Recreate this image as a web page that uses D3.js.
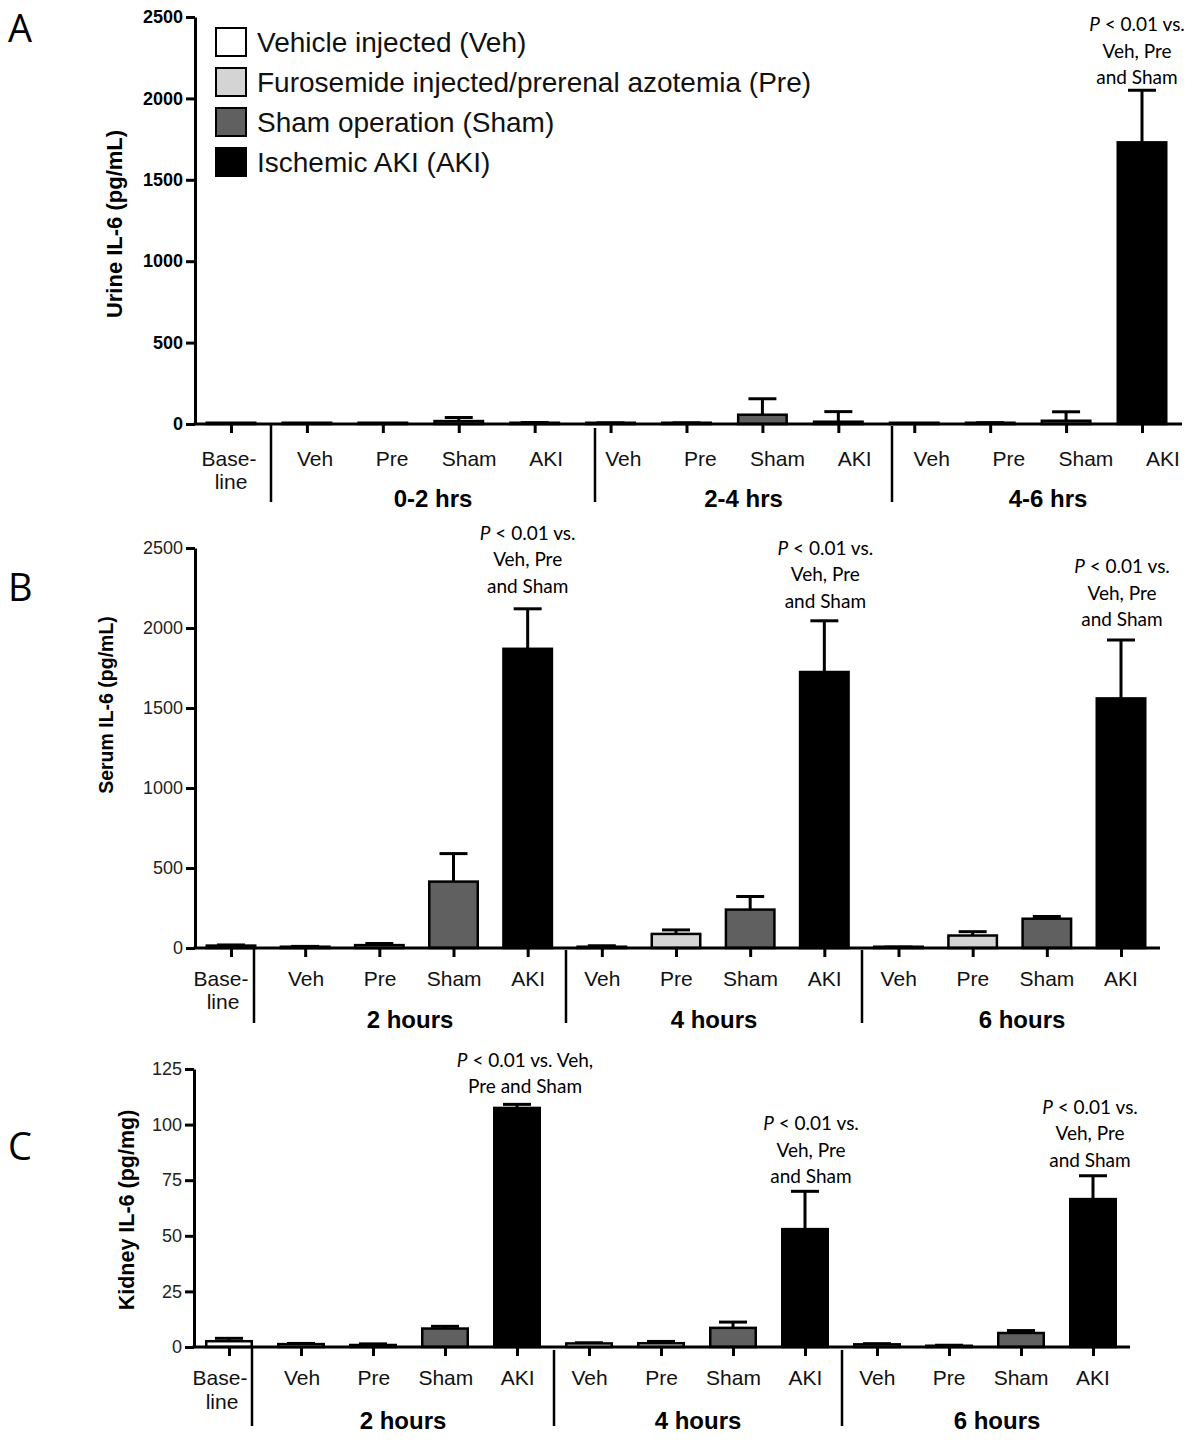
<!DOCTYPE html>
<html><head><meta charset="utf-8">
<script src="https://cdn.jsdelivr.net/npm/d3@7"></script>
<style>body{margin:0;background:#fff}svg{display:block}</style>
</head><body><svg id="c" width="1200" height="1447"></svg>
<script>
// ---------- data ----------
const categories = ["Veh", "Pre", "Sham", "AKI"];
const baselineLabel = ["Base-", "line"];
const urineTimes = ["0-2 hrs", "2-4 hrs", "4-6 hrs"];
const hourTimes = ["2 hours", "4 hours", "6 hours"];
const legendLabels = ["Vehicle injected (Veh)", "Furosemide injected/prerenal azotemia (Pre)", "Sham operation (Sham)", "Ischemic AKI (AKI)"];
const groupColors = ["#ffffff", "#d4d4d4", "#606060", "#000000"];

// order: Baseline, then Veh/Pre/Sham/AKI for each of 3 time points
const urineMean = [1, 1, 1, 18, 7, 5, 5, 57, 14, 1, 6, 20, 1730];
const urineErr  = [0, 0, 0, 22, 2, 2, 2, 98, 62, 0, 2, 55, 320];
const serumMean = [15, 8, 18, 415, 1870, 8, 88, 240, 1725, 4, 78, 183, 1560];
const serumErr  = [4, 2, 10, 175, 250, 6, 25, 82, 320, 2, 24, 14, 365];
const kidneyMean = [2.6, 1.3, 0.9, 8.3, 107.5, 1.6, 1.7, 8.6, 53, 1.2, 0.5, 6.3, 66.5];
const kidneyErr  = [1.3, 0.3, 0.5, 1.0, 1.6, 0.3, 0.8, 2.6, 17, 0.3, 0.3, 1.1, 10.5];

const ticksAB = [0, 500, 1000, 1500, 2000, 2500];
const ticksC = [0, 25, 50, 75, 100, 125];

const annotThree = ["< 0.01 vs.", "Veh, Pre", "and Sham"];
const annotTwo = ["< 0.01 vs. Veh,", "Pre and Sham"];

// ---------- layout ----------
const panels = [
  {letter: "A", letterY: 42, mean: urineMean, err: urineErr, ticks: ticksAB, max: 2500, times: urineTimes,
   y0: 424, y1: 17, axisX: 195, axisEnd: 1182, first: 231, last: 1142, barW: 51,
   labelFirst: 315, labelLast: 1163, baseLabelX: 229, seps: [[271, 424], [595, 428], [892, 426]], sepBottom: 502,
   catY: 466, lineY: 489, groupY: 507, tickBold: true, groupEndPad: 22,
   title: "Urine IL-6 (pg/mL)", titleX: 122, titleY: 224, titleSize: 22,
   annots: [{i: 12, lines: annotThree, gap: 6, dx: -5}]},
  {letter: "B", letterY: 601, mean: serumMean, err: serumErr, ticks: ticksAB, max: 2500, times: hourTimes,
   y0: 948, y1: 548, axisX: 195, axisEnd: 1160, first: 231, last: 1121, barW: 51,
   labelFirst: 306, labelLast: 1121, baseLabelX: 221, seps: [[254, 948], [566, 950], [862, 950]], sepBottom: 1023,
   catY: 986, lineY: 1009, groupY: 1028, tickBold: false, groupEndPad: 22,
   title: "Serum IL-6 (pg/mL)", titleX: 113, titleY: 705, titleSize: 19.5,
   annots: [{i: 4, lines: annotThree, gap: 16, dx: 0}, {i: 8, lines: annotThree, gap: 13, dx: 1}, {i: 12, lines: annotThree, gap: 14, dx: 1}]},
  {letter: "C", letterY: 1160, mean: kidneyMean, err: kidneyErr, ticks: ticksC, max: 125, times: hourTimes,
   y0: 1347, y1: 1069, axisX: 194, axisEnd: 1130, first: 229, last: 1093, barW: 48,
   labelFirst: 302, labelLast: 1093, baseLabelX: 220, seps: [[252, 1347], [554, 1350], [842, 1350]], sepBottom: 1426,
   catY: 1385, lineY: 1409, groupY: 1429, tickBold: false, groupEndPad: 22,
   title: "Kidney IL-6 (pg/mg)", titleX: 134, titleY: 1210, titleSize: 21.5,
   annots: [{i: 4, lines: annotTwo, gap: 11, dx: 8}, {i: 8, lines: annotThree, gap: 8, dx: 6}, {i: 12, lines: annotThree, gap: 9, dx: -3}]}
];

const svg = d3.select("#c");
const SANS = "'Liberation Sans', Arial, Helvetica, sans-serif";
const HUMAN = "Lato, 'Open Sans', sans-serif";

panels.forEach(p => {
  const g = svg.append("g");
  const idx = d3.range(p.mean.length);
  const x = d3.scalePoint().domain(idx).range([p.first, p.last]);
  const xl = d3.scaleLinear().domain([1, 12]).range([p.labelFirst, p.labelLast]);
  const y = d3.scaleLinear().domain([0, p.max]).range([p.y0, p.y1]);
  const color = i => i === 0 ? groupColors[0] : groupColors[(i - 1) % 4];

  // panel letter
  svg.append("text").attr("x", 8).attr("y", p.letterY).text(p.letter)
    .attr("font-family", "'Open Sans', Lato, sans-serif").attr("font-size", 38).attr("fill", "#000");

  // error bars (upward only)
  idx.forEach(i => {
    if (p.err[i] <= 0) return;
    const cx = x(i), top = y(p.mean[i] + p.err[i]);
    g.append("line").attr("x1", cx).attr("x2", cx).attr("y1", y(p.mean[i])).attr("y2", top)
      .attr("stroke", "#000").attr("stroke-width", 3);
    g.append("line").attr("x1", cx - 14).attr("x2", cx + 14).attr("y1", top).attr("y2", top)
      .attr("stroke", "#000").attr("stroke-width", 3);
  });

  // bars
  g.selectAll("rect.bar").data(idx).join("rect").attr("class", "bar")
    .attr("x", i => x(i) - p.barW / 2 + 1.25)
    .attr("width", p.barW - 2.5)
    .attr("y", i => Math.min(y(p.mean[i]), p.y0 - 1.25))
    .attr("height", i => Math.max(p.y0 - y(p.mean[i]), 1.25))
    .attr("fill", color).attr("stroke", "#000").attr("stroke-width", 2.5);

  // y axis
  const yAxis = d3.axisLeft(y).tickValues(p.ticks).tickFormat(d3.format("d"))
    .tickSize(9).tickSizeOuter(0).tickPadding(3);
  const ya = g.append("g").attr("transform", `translate(${p.axisX},0)`).call(yAxis);
  ya.select(".domain").attr("stroke-width", 3);
  ya.selectAll(".tick line").attr("stroke-width", 3);
  ya.selectAll(".tick text").attr("font-family", SANS).attr("font-size", 18)
    .attr("font-weight", p.tickBold ? "bold" : "normal")
    .attr("fill", p.tickBold ? "#000" : "#222");

  // x axis
  const xAxis = d3.axisBottom(x).tickSize(9).tickFormat("");
  const xa = g.append("g").attr("transform", `translate(0,${p.y0})`).call(xAxis);
  xa.select(".domain").remove();
  xa.selectAll(".tick line").attr("stroke-width", 3);
  g.append("line").attr("x1", p.axisX - 1.5).attr("x2", p.axisEnd).attr("y1", p.y0).attr("y2", p.y0)
    .attr("stroke", "#000").attr("stroke-width", 3);

  // separators
  p.seps.forEach(([sx, sy]) => {
    g.append("line").attr("x1", sx).attr("x2", sx).attr("y1", sy).attr("y2", p.sepBottom)
      .attr("stroke", "#000").attr("stroke-width", 2.5);
  });

  // category labels
  idx.slice(1).forEach(i => {
    g.append("text").attr("x", xl(i)).attr("y", p.catY).attr("text-anchor", "middle")
      .attr("font-family", SANS).attr("font-size", 21).attr("fill", "#111").text(categories[(i - 1) % 4]);
  });
  g.append("text").attr("x", p.baseLabelX).attr("y", p.catY).attr("text-anchor", "middle")
    .attr("font-family", SANS).attr("font-size", 21).attr("fill", "#111").text(baselineLabel[0]);
  g.append("text").attr("x", p.baseLabelX + 2).attr("y", p.lineY).attr("text-anchor", "middle")
    .attr("font-family", SANS).attr("font-size", 21).attr("fill", "#111").text(baselineLabel[1]);

  // group labels
  const bounds = p.seps.map(s => s[0]).concat([p.axisEnd + p.groupEndPad]);
  p.times.forEach((t, k) => {
    g.append("text").attr("x", (bounds[k] + bounds[k + 1]) / 2).attr("y", p.groupY).attr("text-anchor", "middle")
      .attr("font-family", SANS).attr("font-size", 24).attr("font-weight", "bold").attr("fill", "#000").text(t);
  });

  // y title
  g.append("text").attr("transform", `translate(${p.titleX},${p.titleY}) rotate(-90)`)
    .attr("text-anchor", "middle").attr("font-family", SANS).attr("font-size", p.titleSize)
    .attr("font-weight", "bold").attr("fill", "#000").text(p.title);

  // annotations
  p.annots.forEach(a => {
    const capY = y(p.mean[a.i] + p.err[a.i]);
    const n = a.lines.length;
    a.lines.forEach((ln, k) => {
      const t = g.append("text").attr("x", x(a.i) + a.dx).attr("y", capY - a.gap - (n - 1 - k) * 26.5)
        .attr("text-anchor", "middle").attr("font-family", HUMAN).attr("font-size", 19).attr("fill", "#000");
      if (k === 0) {
        t.append("tspan").attr("font-style", "italic").text("P");
        t.append("tspan").text(" " + ln);
      } else t.text(ln);
    });
  });
});

// legend (panel A)
const leg = svg.append("g");
const legY = d3.scalePoint().domain(d3.range(4)).range([42, 162]);
legendLabels.forEach((lab, i) => {
  leg.append("rect").attr("x", 216).attr("y", legY(i) - 14).attr("width", 30).attr("height", 28)
    .attr("fill", groupColors[i]).attr("stroke", "#000").attr("stroke-width", 2);
  leg.append("text").attr("x", 257).attr("y", legY(i) + 10).attr("font-family", SANS)
    .attr("font-size", 28).attr("fill", "#111").text(lab);
});
</script></body></html>
